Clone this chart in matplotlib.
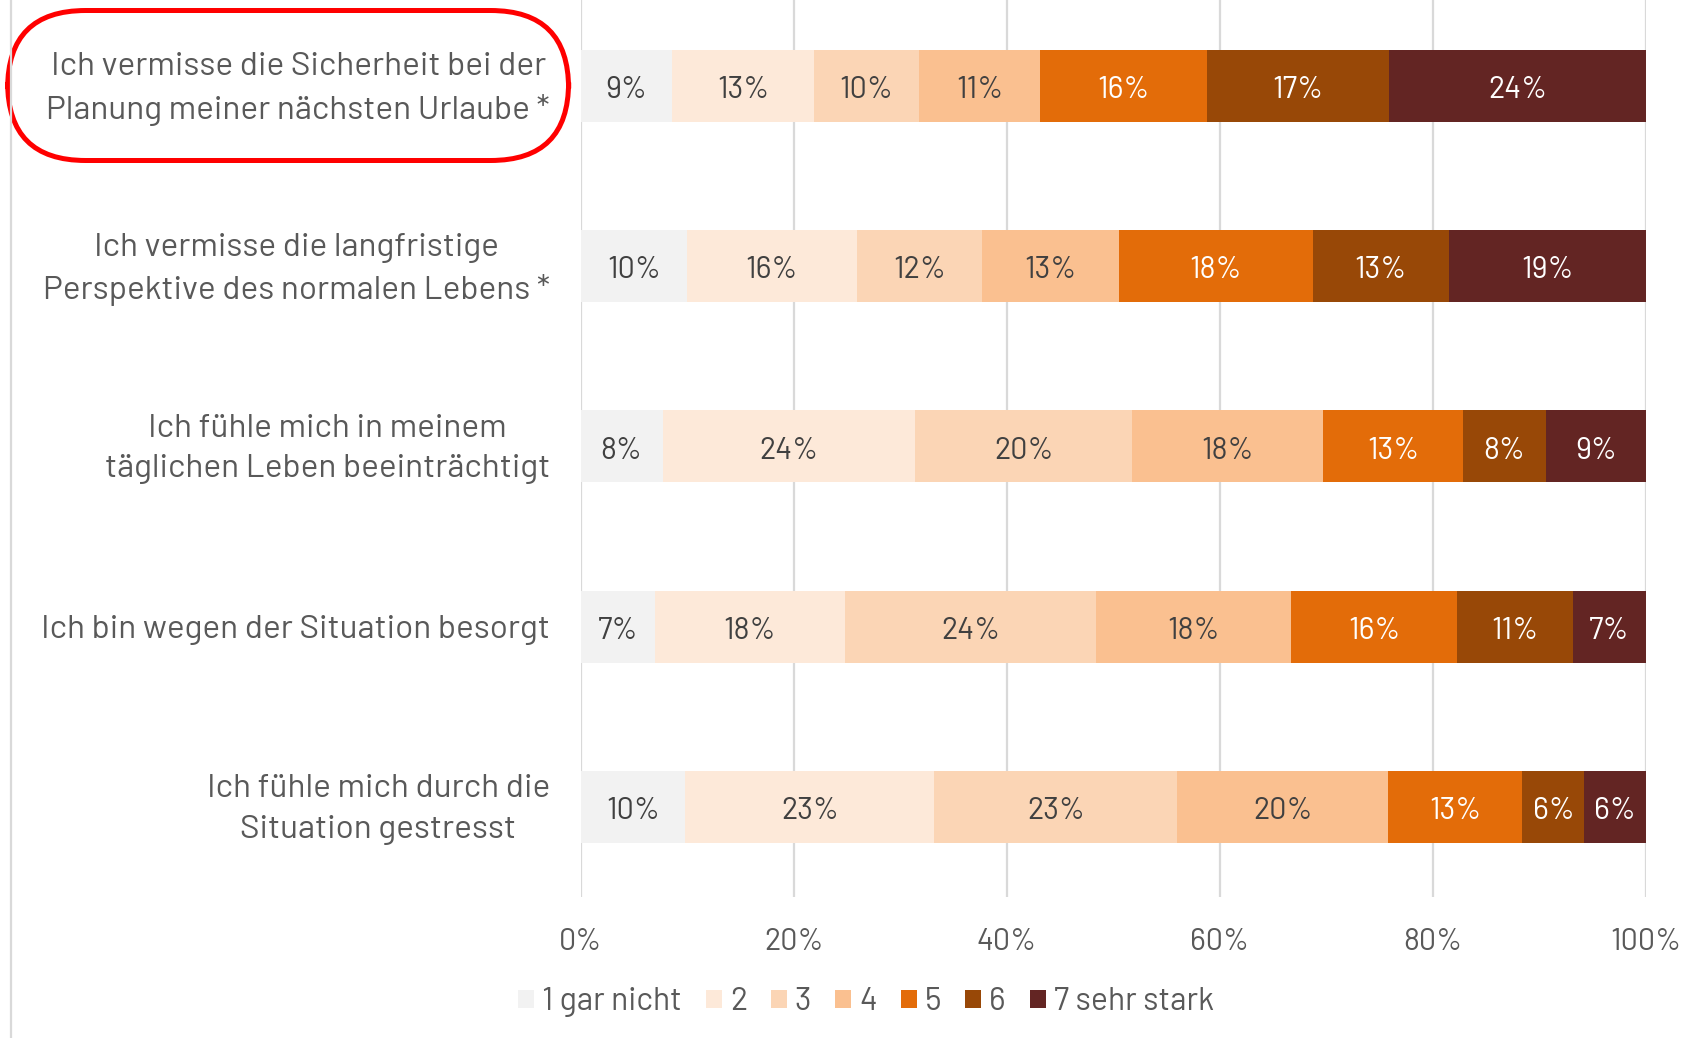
import matplotlib
matplotlib.use('Agg')
import matplotlib.pyplot as plt
import matplotlib.patches as patches
import matplotlib.transforms as mtransforms
import numpy as np

plt.rcParams['font.family'] = ['Barlow', 'DejaVu Sans']

# Aussagen (von oben nach unten)
categories = [
    'Ich vermisse die Sicherheit bei der\nPlanung meiner nächsten Urlaube *',
    'Ich vermisse die langfristige\nPerspektive des normalen Lebens *',
    'Ich fühle mich in meinem\ntäglichen Leben beeinträchtigt',
    'Ich bin wegen der Situation besorgt',
    'Ich fühle mich durch die\nSituation gestresst',
]
levels = ['1 gar nicht', '2', '3', '4', '5', '6', '7 sehr stark']

# Anteile je Aussage in % (Stufe 1..7)
share_urlaub = [8.6, 13.3, 9.9, 11.3, 15.7, 17.1, 24.1]
share_perspektive = [10.0, 15.9, 11.8, 12.8, 18.2, 12.8, 18.5]
share_alltag = [7.7, 23.7, 20.4, 17.9, 13.1, 7.8, 9.4]
share_besorgt = [7.0, 17.8, 23.6, 18.3, 15.6, 10.8, 6.9]
share_gestresst = [9.8, 23.4, 22.8, 19.8, 12.6, 5.8, 5.8]

colors = ['#f2f2f2', '#fde9d9', '#fbd5b5', '#fac090', '#e36c09', '#984807', '#632523']
label_colors = ['#404040', '#404040', '#404040', '#404040', 'white', 'white', 'white']
grey = '#595959'

raw = np.array([share_urlaub, share_perspektive, share_alltag, share_besorgt, share_gestresst])
data = raw / raw.sum(axis=1, keepdims=True) * 100  # 100%-gestapelt
y = np.arange(len(categories))

fig = plt.figure(figsize=(16.98, 10.38), dpi=100)
ax = fig.add_axes([0.3419, 0.1358, 0.6275, 0.8642])

up = mtransforms.ScaledTranslation(0, 0.06, fig.dpi_scale_trans)

left = np.zeros(len(categories))
for j, level in enumerate(levels):
    bars = ax.barh(y, data[:, j], left=left, height=0.4, color=colors[j], label=level, zorder=2)
    texts = ['%d%%' % int(np.floor(v + 0.5)) for v in raw[:, j]]
    anns = ax.bar_label(bars, labels=texts, label_type='center', color=label_colors[j], fontsize=22)
    for a in anns:
        a.xyann = (0, -3)  # etwas tiefer, wie im Original
    left += data[:, j]

ax.set_xlim(0, 100)
ax.set_ylim(4.5, -0.477)
ax.set_xticks(range(0, 101, 20))
ax.set_xticklabels(['%d%%' % t for t in range(0, 101, 20)], fontsize=22, color=grey)
ax.set_yticks(y)
ax.set_yticklabels(categories, fontsize=24, color=grey, multialignment='center', linespacing=1.45)
ax.tick_params(axis='x', length=0, pad=22)
ax.tick_params(axis='y', length=0, pad=22)
ax.xaxis.grid(True, color='#d9d9d9', linewidth=1.6)
ax.set_axisbelow(True)
for s in ax.spines.values():
    s.set_visible(False)

# zweizeilige Beschriftungen etwas nach oben
for lab in ax.get_yticklabels():
    if '\n' in lab.get_text():
        lab.set_transform(lab.get_transform() + up)

leg = fig.legend(loc='center', bbox_to_anchor=(866 / 1698, 1 - 1002 / 1038), ncol=7, frameon=False,
                 fontsize=23, handlelength=0.5, handleheight=0.5, handletextpad=0.25, columnspacing=0.75)
for t in leg.get_texts():
    t.set_color(grey)

# Overlay in Pixelkoordinaten: Rahmenlinie links und rote Markierung
ov = fig.add_axes([0, 0, 1, 1], zorder=5)
ov.set_xlim(0, 1698)
ov.set_ylim(1038, 0)
ov.axis('off')
ov.plot([11, 11], [0, 1038], color='#d9d9d9', linewidth=1.6)
ov.add_patch(patches.FancyBboxPatch((7.6, 10.5), 561, 150, boxstyle='round,pad=0,rounding_size=78',
                                    facecolor='none', edgecolor='#ff0000', linewidth=3.6))

plt.savefig('out.png', dpi=100)
